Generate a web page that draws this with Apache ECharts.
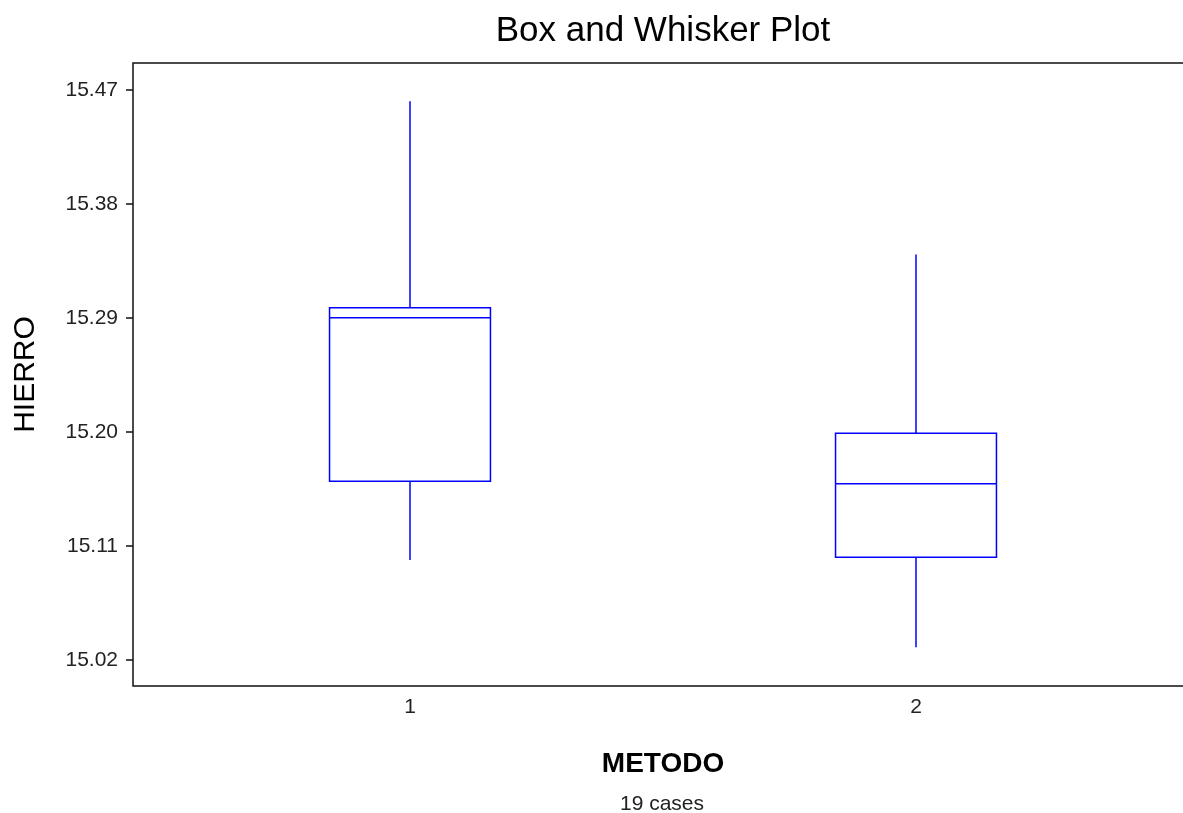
<!DOCTYPE html>
<html>
<head>
<meta charset="utf-8">
<script src="https://cdn.jsdelivr.net/npm/echarts@6/dist/echarts.min.js"></script>
<style>
  html, body { margin: 0; padding: 0; background: #fff; }
  #box_view { width: 1183px; height: 813px; }
</style>
</head>
<body>
<div id="box_view"></div>
<script>
    // box and whisker plot, HIERRO by METODO
    var categories = ['1', '2'];
    var whiskerLow = [15.099, 15.030];
    var q1 = [15.161, 15.101];
    var median = [15.290, 15.159];
    var q3 = [15.298, 15.199];
    var whiskerHigh = [15.461, 15.340];
    var yTicks = [15.02, 15.11, 15.20, 15.29, 15.38, 15.47];
    var yMin = 14.9995;
    var yMax = 15.4911;

    var boxData = categories.map(function (c, i) {
        return [i, whiskerLow[i], q1[i], median[i], q3[i], whiskerHigh[i]];
    });

    var font = '"Liberation Sans", Arial, sans-serif';
    var blue = '#0000ff';

    function renderBox(params, api) {
        var x = api.value(0);
        var low = api.coord([x, api.value(1)]);
        var b1 = api.coord([x, api.value(2)]);
        var med = api.coord([x, api.value(3)]);
        var b3 = api.coord([x, api.value(4)]);
        var high = api.coord([x, api.value(5)]);
        var half = api.size([1, 0])[0] * 0.318 / 2;
        var style = { stroke: blue, lineWidth: 1.5, fill: null };
        return {
            type: 'group',
            children: [
                { type: 'line', shape: { x1: high[0], y1: high[1], x2: b3[0], y2: b3[1] }, style: style },
                { type: 'line', shape: { x1: b1[0], y1: b1[1], x2: low[0], y2: low[1] }, style: style },
                { type: 'rect', shape: { x: b3[0] - half, y: b3[1], width: half * 2, height: b1[1] - b3[1] }, style: style },
                { type: 'line', shape: { x1: med[0] - half, y1: med[1], x2: med[0] + half, y2: med[1] }, style: style }
            ]
        };
    }

    var option = {
        backgroundColor: '#fff',
        animation: false,
        textStyle: { fontFamily: font },
        graphic: [
            {
                type: 'text', x: 663, y: 31,
                style: { text: 'Box and Whisker Plot', font: '35px ' + font, fill: '#000', align: 'center', verticalAlign: 'middle' }
            },
            {
                type: 'text', x: 662, y: 804,
                style: { text: '19 cases', font: '21px ' + font, fill: '#222', align: 'center', verticalAlign: 'middle' }
            }
        ],
        grid: [
            // frame, its right side runs off the picture
            { left: 133, top: 63, width: 1100, height: 623, show: true, borderColor: '#111', borderWidth: 1.5, backgroundColor: 'transparent', outerBoundsMode: 'none', containLabel: false },
            // data area
            { left: 157, top: 63, width: 1012, height: 623, outerBoundsMode: 'none', containLabel: false }
        ],
        xAxis: [
            { gridIndex: 0, type: 'value', show: false, min: 0, max: 1 },
            {
                gridIndex: 1,
                type: 'category',
                data: categories,
                boundaryGap: true,
                axisLine: { show: false },
                axisTick: { show: false },
                axisLabel: { fontSize: 21, color: '#222', margin: 11 },
                name: 'METODO',
                nameLocation: 'middle',
                nameGap: 64,
                nameTextStyle: { fontSize: 28, fontWeight: 'bold', color: '#000' }
            }
        ],
        yAxis: [
            {
                gridIndex: 0,
                type: 'value',
                min: yMin,
                max: yMax,
                axisLine: { show: false },
                splitLine: { show: false },
                axisTick: { show: true, length: 7, customValues: yTicks, lineStyle: { color: '#111', width: 1.5 } },
                axisLabel: {
                    customValues: yTicks,
                    fontSize: 21,
                    color: '#222',
                    margin: 15,
                    formatter: function (v) { return v.toFixed(2); }
                },
                name: 'HIERRO',
                nameLocation: 'middle',
                nameGap: 92,
                nameTextStyle: { fontSize: 30, color: '#000' }
            },
            { gridIndex: 1, type: 'value', min: yMin, max: yMax, show: false }
        ],
        series: [
            {
                name: 'HIERRO',
                type: 'custom',
                xAxisIndex: 1,
                yAxisIndex: 1,
                renderItem: renderBox,
                encode: { x: 0, y: [1, 2, 3, 4, 5] },
                data: boxData
            }
        ]
    };

    var myChart = echarts.init(document.getElementById('box_view'));
    myChart.setOption(option);
</script>
</body>
</html>
